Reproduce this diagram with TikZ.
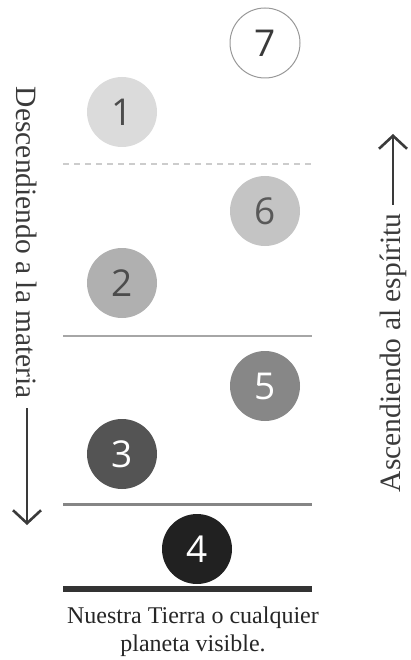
\documentclass[tikz,border=0pt]{standalone}
\usepackage{fontspec}
\setmainfont{Liberation Serif}
\newfontfamily\digitfont{Open Sans}
\usetikzlibrary{arrows.meta,positioning}
\definecolor{inkgray}{HTML}{3A3A3A}
\tikzset{
  plane/.style={circle, minimum size=70pt, inner sep=0pt,
    font=\digitfont\fontsize{37}{37}\selectfont},
  level/.style={line cap=butt},
  side/.style={font=\fontsize{29.5}{29.5}\selectfont, text=inkgray, inner sep=9pt},
  sidearrow/.style={line width=2.6pt, draw=inkgray,
    -{Straight Barb[length=13pt,width=28pt,line width=2.6pt]}}
}
\begin{document}
\begin{tikzpicture}[x=1pt, y=-1pt]
  \useasboundingbox (0,0) rectangle (410,660);
  % planes, from 1 to 7
  \node[plane, fill=white, draw=gray!80, line width=1pt, text=inkgray] (7) at (265,43) {7};
  \node[plane, fill=black!14, text=black!70] (1) at (122,112) {1};
  \node[plane, fill=black!23, text=black!65] (6) at (265,211) {6};
  \node[plane, fill=black!31, text=black!70] (2) at (122,283) {2};
  \node[plane, fill=black!47, text=white] (5) at (265,386) {5};
  \node[plane, fill=black!67, text=white] (3) at (122,454) {3};
  \node[plane, fill=black!87, text=white] (4) at (197,549) {4};
  % the levels
  \draw[level, black!20, line width=1.5pt, dash pattern=on 6pt off 5pt] (63,164) -- (312,164);
  \draw[level, black!35, line width=1.5pt] (63,336) -- (312,336);
  \draw[level, black!48, line width=3pt] (63,504) -- (312,504);
  \draw[level, black!80, line width=6pt] (63,589) -- (312,589);
  \node[align=center, text=black!85, font=\fontsize{24}{28}\selectfont] (earth) at (193,632)
    {Nuestra Tierra o cualquier\\planeta visible.};
  % the two ways
  \node[side, rotate=-90] (down) at (27,243) {Descendiendo a la materia};
  \coordinate (downtip) at (27,525);
  \draw[sidearrow] (down.east) -- (downtip);
  \node[side, rotate=90] (up) at (393,353) {Ascendiendo al espíritu};
  \coordinate (uptip) at (393,134);
  \draw[sidearrow] (up.east) -- (uptip);
\end{tikzpicture}
\end{document}
